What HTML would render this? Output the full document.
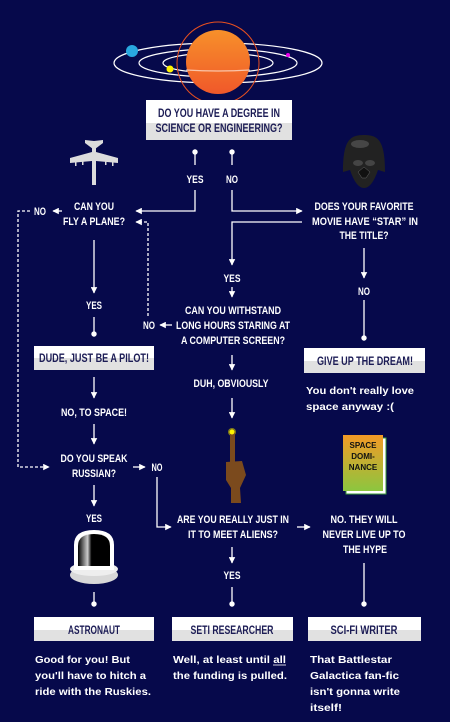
<!DOCTYPE html>
<html><head><meta charset="utf-8"><style>
html,body{margin:0;padding:0;background:#06094b;}
svg{display:block}
.h{font-family:"Liberation Sans Narrow","Liberation Sans",sans-serif;font-weight:bold;font-size:11px;fill:#fff;text-anchor:middle}
.b{font-family:"Liberation Sans Narrow","Liberation Sans",sans-serif;font-weight:bold;font-size:11.5px;fill:#1c1c55;text-anchor:middle}
.p{font-family:"Liberation Sans",sans-serif;font-weight:bold;font-size:10px;fill:#fff}
</style></head><body>
<svg width="450" height="722" viewBox="0 0 450 722" xmlns="http://www.w3.org/2000/svg">
<defs>
<linearGradient id="pl" x1="0" y1="0" x2="0" y2="1"><stop offset="0" stop-color="#f7902a"/><stop offset="1" stop-color="#f0582a"/></linearGradient>
<linearGradient id="bk" x1="0" y1="0" x2="0" y2="1"><stop offset="0" stop-color="#f39a26"/><stop offset="1" stop-color="#8cc63f"/></linearGradient>
<linearGradient id="hel" x1="0" y1="0" x2="1" y2="0"><stop offset="0" stop-color="#000"/><stop offset=".3" stop-color="#ccc"/><stop offset=".42" stop-color="#000"/><stop offset="1" stop-color="#000"/></linearGradient>
<marker id="a" viewBox="0 0 10 10" refX="9" refY="5" markerWidth="5" markerHeight="5" orient="auto"><path d="M0,0 L10,5 L0,10 z" fill="#fff"/></marker>
</defs>
<rect width="450" height="722" fill="#06094b"/>
<g fill="none" stroke="#fff" stroke-width="1.2">
<ellipse cx="218" cy="63" rx="104" ry="20"/>
<ellipse cx="218" cy="63" rx="79" ry="14"/>
<ellipse cx="218" cy="63" rx="55" ry="10"/>
</g>
<circle cx="218" cy="62" r="32" fill="url(#pl)"/>
<path d="M186,70 A104,20 0 0 0 250,70" fill="none" stroke="#fff" stroke-width="1.2" opacity=".6"/>
<circle cx="218" cy="63" r="41" fill="none" stroke="#e8501f" stroke-width="1"/>
<circle cx="132" cy="51" r="6" fill="#29a8e0"/>
<circle cx="170" cy="69" r="3.5" fill="#fff200"/>
<circle cx="288" cy="55" r="2" fill="#ec00ec"/>
<rect x="146" y="100" width="146" height="40" fill="#fff"/><rect x="146" y="123" width="146" height="17" fill="#e1e1e1"/>
<text class="b" x="219" y="117" textLength="122" lengthAdjust="spacingAndGlyphs">DO YOU HAVE A DEGREE IN</text>
<text class="b" x="219" y="132" textLength="127" lengthAdjust="spacingAndGlyphs">SCIENCE OR ENGINEERING?</text>
<g stroke="#fff" stroke-width="1.3" fill="none">
<line x1="195" y1="152" x2="195" y2="165"/><line x1="232" y1="152" x2="232" y2="165"/>
<polyline points="195,190 195,211 136,211" marker-end="url(#a)"/>
<polyline points="232,190 232,211 302,211" marker-end="url(#a)"/>
<line x1="62" y1="211" x2="53" y2="211" marker-end="url(#a)"/>
<polyline points="30,211 18,211 18,467 49,467" stroke-dasharray="3,2" marker-end="url(#a)"/>
<polyline points="148,316 148,222 136,222" stroke-dasharray="3,2" marker-end="url(#a)"/>
<polyline points="302,222 232,222 232,265" marker-end="url(#a)"/>
<line x1="232" y1="287" x2="232" y2="297" marker-end="url(#a)"/>
<line x1="172" y1="325" x2="160" y2="325" marker-end="url(#a)"/>
<line x1="364" y1="248" x2="364" y2="278" marker-end="url(#a)"/>
<line x1="364" y1="300" x2="364" y2="338"/>
<line x1="94" y1="240" x2="94" y2="293" marker-end="url(#a)"/>
<line x1="94" y1="317" x2="94" y2="334"/>
<line x1="94" y1="377" x2="94" y2="398" marker-end="url(#a)"/>
<line x1="94" y1="424" x2="94" y2="444" marker-end="url(#a)"/>
<line x1="133" y1="467" x2="145" y2="467" marker-end="url(#a)"/>
<polyline points="157,477 157,527 171,527" marker-end="url(#a)"/>
<line x1="94" y1="485" x2="94" y2="506" marker-end="url(#a)"/>
<line x1="94" y1="592" x2="94" y2="604"/>
<line x1="232" y1="355" x2="232" y2="370" marker-end="url(#a)"/>
<line x1="232" y1="398" x2="232" y2="418" marker-end="url(#a)"/>
<line x1="297" y1="527" x2="310" y2="527" marker-end="url(#a)"/>
<line x1="232" y1="547" x2="232" y2="563" marker-end="url(#a)"/>
<line x1="232" y1="587" x2="232" y2="604"/>
<line x1="364" y1="563" x2="364" y2="604"/>
</g>
<g fill="#fff">
<circle cx="195" cy="152" r="2.7"/><circle cx="232" cy="152" r="2.7"/>
<circle cx="364" cy="338" r="2.7"/><circle cx="94" cy="334" r="2.7"/>
<circle cx="94" cy="604" r="2.7"/><circle cx="232" cy="604" r="2.7"/><circle cx="364" cy="604" r="2.7"/>
</g>
<text class="h" x="195" y="183" textLength="17" lengthAdjust="spacingAndGlyphs">YES</text>
<text class="h" x="232" y="183" textLength="12" lengthAdjust="spacingAndGlyphs">NO</text>
<text class="h" x="94" y="210" textLength="40" lengthAdjust="spacingAndGlyphs">CAN YOU</text>
<text class="h" x="94" y="225" textLength="62" lengthAdjust="spacingAndGlyphs">FLY A PLANE?</text>
<text class="h" x="40" y="215" textLength="12" lengthAdjust="spacingAndGlyphs">NO</text>
<text class="h" x="364" y="210" textLength="99" lengthAdjust="spacingAndGlyphs">DOES YOUR FAVORITE</text>
<text class="h" x="365" y="225" textLength="106" lengthAdjust="spacingAndGlyphs">MOVIE HAVE “STAR” IN</text>
<text class="h" x="364" y="239" textLength="49" lengthAdjust="spacingAndGlyphs">THE TITLE?</text>
<text class="h" x="232" y="282" textLength="17" lengthAdjust="spacingAndGlyphs">YES</text>
<text class="h" x="233" y="314" textLength="96" lengthAdjust="spacingAndGlyphs">CAN YOU WITHSTAND</text>
<text class="h" x="233" y="329" textLength="114" lengthAdjust="spacingAndGlyphs">LONG HOURS STARING AT</text>
<text class="h" x="233" y="344" textLength="104" lengthAdjust="spacingAndGlyphs">A COMPUTER SCREEN?</text>
<text class="h" x="149" y="329" textLength="12" lengthAdjust="spacingAndGlyphs">NO</text>
<text class="h" x="364" y="295" textLength="12" lengthAdjust="spacingAndGlyphs">NO</text>
<text class="h" x="94" y="309" textLength="16" lengthAdjust="spacingAndGlyphs">YES</text>
<text class="h" x="94" y="416" textLength="66" lengthAdjust="spacingAndGlyphs">NO, TO SPACE!</text>
<text class="h" x="231" y="387" textLength="75" lengthAdjust="spacingAndGlyphs">DUH, OBVIOUSLY</text>
<text class="h" x="94" y="462" textLength="67" lengthAdjust="spacingAndGlyphs">DO YOU SPEAK</text>
<text class="h" x="94" y="477" textLength="44" lengthAdjust="spacingAndGlyphs">RUSSIAN?</text>
<text class="h" x="157" y="471" textLength="11" lengthAdjust="spacingAndGlyphs">NO</text>
<text class="h" x="94" y="522" textLength="16" lengthAdjust="spacingAndGlyphs">YES</text>
<text class="h" x="233" y="523" textLength="112" lengthAdjust="spacingAndGlyphs">ARE YOU REALLY JUST IN</text>
<text class="h" x="233" y="538" textLength="90" lengthAdjust="spacingAndGlyphs">IT TO MEET ALIENS?</text>
<text class="h" x="232" y="579" textLength="17" lengthAdjust="spacingAndGlyphs">YES</text>
<text class="h" x="364" y="523" textLength="67" lengthAdjust="spacingAndGlyphs">NO. THEY WILL</text>
<text class="h" x="364" y="538" textLength="83" lengthAdjust="spacingAndGlyphs">NEVER LIVE UP TO</text>
<text class="h" x="365" y="553" textLength="44" lengthAdjust="spacingAndGlyphs">THE HYPE</text>
<g>
<rect x="304" y="348" width="121" height="25" fill="#fff"/><rect x="304" y="361" width="121" height="12" fill="#e1e1e1"/>
<text class="b" x="365" y="365" textLength="96" lengthAdjust="spacingAndGlyphs">GIVE UP THE DREAM!</text>
<rect x="34" y="346" width="120" height="24" fill="#fff"/><rect x="34" y="358" width="120" height="12" fill="#e1e1e1"/>
<text class="b" x="94" y="362" textLength="110" lengthAdjust="spacingAndGlyphs">DUDE, JUST BE A PILOT!</text>
<rect x="34" y="617" width="120" height="24" fill="#fff"/><rect x="34" y="630" width="120" height="11" fill="#e1e1e1"/>
<text class="b" x="94" y="634" textLength="52" lengthAdjust="spacingAndGlyphs">ASTRONAUT</text>
<rect x="172" y="617" width="121" height="24" fill="#fff"/><rect x="172" y="630" width="121" height="11" fill="#e1e1e1"/>
<text class="b" x="232" y="634" textLength="83" lengthAdjust="spacingAndGlyphs">SETI RESEARCHER</text>
<rect x="308" y="617" width="113" height="24" fill="#fff"/><rect x="308" y="630" width="113" height="11" fill="#e1e1e1"/>
<text class="b" x="364" y="634" textLength="67" lengthAdjust="spacingAndGlyphs">SCI-FI WRITER</text>
</g>
<text class="p" x="306" y="394" textLength="108" lengthAdjust="spacingAndGlyphs">You don't really love</text>
<text class="p" x="306" y="410" textLength="88" lengthAdjust="spacingAndGlyphs">space anyway  :(</text>
<text class="p" x="35" y="663" textLength="95" lengthAdjust="spacingAndGlyphs">Good for you! But</text>
<text class="p" x="35" y="679" textLength="111" lengthAdjust="spacingAndGlyphs">you'll have to hitch a</text>
<text class="p" x="35" y="695" textLength="116" lengthAdjust="spacingAndGlyphs">ride with the Ruskies.</text>
<text class="p" x="173" y="663" textLength="113" lengthAdjust="spacingAndGlyphs">Well, at least until all</text>
<line x1="273" y1="665" x2="286" y2="665" stroke="#fff" stroke-width=".8"/>
<text class="p" x="173" y="679" textLength="114" lengthAdjust="spacingAndGlyphs">the funding is pulled.</text>
<text class="p" x="310" y="663" textLength="82" lengthAdjust="spacingAndGlyphs">That Battlestar</text>
<text class="p" x="310" y="679" textLength="89" lengthAdjust="spacingAndGlyphs">Galactica fan-fic</text>
<text class="p" x="310" y="695" textLength="90" lengthAdjust="spacingAndGlyphs">isn't gonna write</text>
<text class="p" x="310" y="711" textLength="32" lengthAdjust="spacingAndGlyphs">itself!</text>
<!-- plane -->
<g fill="#dcdcdc">
<path d="M92,147 L92,185 L96,185 L96,147 Z"/>
<path d="M94,141 L85,140 L85,143 L93,149 L95,149 L103,143 L103,140 Z"/>
<path d="M92,152 L70,158 L70,163 L92,161 Z"/>
<path d="M96,152 L118,158 L118,163 L96,161 Z"/>
<rect x="75" y="161" width="1.5" height="5"/><rect x="82" y="160" width="1.5" height="5"/>
<rect x="105" y="160" width="1.5" height="5"/><rect x="112" y="161" width="1.5" height="5"/>
</g>
<!-- vader -->
<g>
<path d="M343,172 C343,140 350,135 364,135 C378,135 385,140 385,172 L378,170 Q372,188 364,188 Q356,188 350,170 Z" fill="#222"/>
<ellipse cx="360" cy="144" rx="9" ry="4" fill="#555" opacity=".7"/>
<ellipse cx="358" cy="163" rx="5" ry="3" fill="#444"/><ellipse cx="370" cy="163" rx="5" ry="3" fill="#444"/>
<path d="M358,172 L364,167 L370,172 L366,178 L362,178 Z" fill="#111" stroke="#666" stroke-width=".5"/>
</g>
<!-- finger -->
<g>
<circle cx="232" cy="432" r="4" fill="#807a1a"/>
<rect x="230" y="432" width="5" height="40" fill="#7b4a1d"/>
<circle cx="232" cy="432" r="2.5" fill="#fff200"/>
<path d="M226,462 L242,461 L246,475 L240,488 L241,503 L231,503 L231,488 L226,480 Z" fill="#7b4a1d"/>
</g>
<!-- book -->
<g>
<rect x="346" y="438" width="40" height="56" fill="#fff" stroke="#3a9a3a" stroke-width="1"/>
<rect x="343" y="435" width="40" height="56" fill="url(#bk)"/>
<text x="363" y="448" font-family="Liberation Sans Narrow,Liberation Sans,sans-serif" font-weight="bold" font-size="8" fill="#111" text-anchor="middle">SPACE</text>
<text x="363" y="459" font-family="Liberation Sans Narrow,Liberation Sans,sans-serif" font-weight="bold" font-size="8" fill="#111" text-anchor="middle">DOMI-</text>
<text x="363" y="470" font-family="Liberation Sans Narrow,Liberation Sans,sans-serif" font-weight="bold" font-size="8" fill="#111" text-anchor="middle">NANCE</text>
</g>
<!-- helmet -->
<g>
<ellipse cx="94" cy="575" rx="24" ry="9" fill="#d8d8d8"/>
<ellipse cx="94" cy="569" rx="24" ry="7" fill="#eee"/>
<path d="M74,570 L74,545 Q74,530 94,530 Q114,530 114,545 L114,570 Z" fill="#fff"/>
<path d="M78,566 L78,546 Q78,534 94,534 Q110,534 110,546 L110,566 Z" fill="url(#hel)"/>
</g>
</svg>
</body></html>
